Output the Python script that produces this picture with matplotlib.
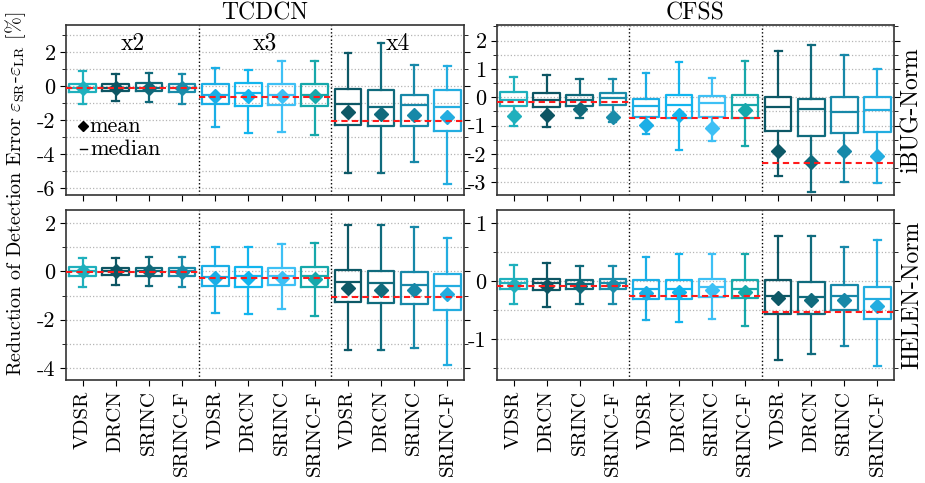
import matplotlib
matplotlib.use("Agg")
import matplotlib.pyplot as plt
from matplotlib.ticker import MultipleLocator

plt.rcParams['font.family'] = ['cmr10', 'DejaVu Serif']
plt.rcParams['mathtext.fontset'] = 'cm'
plt.rcParams['axes.unicode_minus'] = False
plt.rcParams['axes.formatter.use_mathtext'] = False

methods = ["VDSR", "DRCN", "SRINC", "SRINC-F"]
scales = ["x2", "x3", "x4"]
tick_labels = methods * 3
col_titles = ["TCDCN", "CFSS"]
row_titles = ["iBUG-Norm", "HELEN-Norm"]

box_colors = ["#1fb0bd", "#0d5563", "#10697a", "#1a8caa",
              "#1aaee6", "#12b5ee", "#3ec0f5", "#17a8ab",
              "#0d5866", "#106b7d", "#1788a8", "#23ade0"]

# TCDCN / iBUG-Norm
tl_whishi = [0.92, 0.73, 0.80, 0.73, 1.08, 0.96, 1.51, 1.47, 1.94, 2.53, 1.27, 1.16]
tl_q3     = [0.14, 0.14, 0.16, 0.14, 0.12, 0.20, 0.10, 0.10, -0.16, -0.22, -0.51, -0.25]
tl_med    = [-0.10, -0.10, -0.08, -0.10, -0.50, -0.41, -0.49, -0.49, -1.04, -1.20, -1.12, -1.20]
tl_q1     = [-0.35, -0.29, -0.29, -0.33, -1.04, -1.14, -1.08, -1.14, -2.31, -2.37, -2.37, -2.61]
tl_whislo = [-1.04, -0.88, -0.94, -1.04, -2.41, -2.75, -2.71, -2.90, -5.08, -5.12, -4.43, -5.75]
tl_mean   = [-0.10, -0.10, -0.10, -0.10, -0.55, -0.55, -0.55, -0.59, -1.53, -1.61, -1.69, -1.80]
tl_ref    = [-0.12, -0.65, -2.06]

# CFSS / iBUG-Norm
tr_whishi = [0.73, 0.80, 0.64, 0.65, 0.85, 1.24, 0.68, 1.28, 1.62, 1.86, 1.48, 1.00]
tr_q3     = [0.19, 0.14, 0.09, 0.14, -0.05, 0.08, 0.05, 0.07, 0.02, -0.05, 0.02, 0.02]
tr_med    = [-0.08, -0.08, -0.09, -0.04, -0.31, -0.26, -0.20, -0.28, -0.35, -0.41, -0.52, -0.45]
tr_q1     = [-0.31, -0.35, -0.31, -0.26, -0.68, -0.72, -0.68, -0.72, -1.18, -1.35, -1.27, -1.21]
tr_whislo = [-1.00, -1.04, -0.72, -0.86, -1.29, -1.86, -1.56, -1.71, -2.78, -3.33, -2.98, -3.01]
tr_mean   = [-0.65, -0.64, -0.41, -0.68, -0.98, -0.62, -1.07, -0.46, -1.88, -2.27, -1.91, -2.07]
tr_ref    = [-0.18, -0.73, -2.31]

# TCDCN / HELEN-Norm
bl_whishi = [0.55, 0.58, 0.59, 0.62, 1.03, 1.03, 1.13, 1.20, 1.93, 1.92, 1.86, 1.38]
bl_q3     = [0.17, 0.15, 0.15, 0.15, 0.21, 0.18, 0.14, 0.17, 0.06, 0.01, -0.01, -0.10]
bl_med    = [0.00, 0.00, 0.02, 0.01, -0.21, -0.18, -0.18, -0.19, -0.44, -0.46, -0.57, -0.59]
bl_q1     = [-0.18, -0.15, -0.17, -0.17, -0.59, -0.65, -0.57, -0.66, -1.27, -1.31, -1.35, -1.61]
bl_whislo = [-0.65, -0.55, -0.59, -0.66, -1.72, -1.75, -1.56, -1.83, -3.24, -3.24, -3.17, -3.86]
bl_mean   = [0.00, 0.00, 0.00, -0.01, -0.28, -0.29, -0.25, -0.32, -0.70, -0.76, -0.77, -0.94]
bl_ref    = [-0.01, -0.29, -1.05]

# CFSS / HELEN-Norm
br_whishi = [0.27, 0.31, 0.26, 0.26, 0.41, 0.46, 0.46, 0.47, 0.77, 0.77, 0.58, 0.70]
br_q3     = [0.03, 0.04, 0.02, 0.03, 0.01, 0.01, 0.03, 0.01, 0.01, -0.02, -0.06, -0.10]
br_med    = [-0.04, -0.03, -0.05, -0.04, -0.13, -0.14, -0.11, -0.13, -0.26, -0.28, -0.25, -0.31]
br_q1     = [-0.14, -0.15, -0.14, -0.14, -0.31, -0.31, -0.27, -0.30, -0.56, -0.56, -0.50, -0.66]
br_whislo = [-0.39, -0.45, -0.39, -0.39, -0.67, -0.70, -0.65, -0.77, -1.35, -1.26, -1.11, -1.46]
br_mean   = [-0.07, -0.09, -0.08, -0.07, -0.21, -0.19, -0.15, -0.19, -0.29, -0.33, -0.33, -0.43]
br_ref    = [-0.08, -0.25, -0.53]

panels = [
    (tl_whislo, tl_q1, tl_med, tl_q3, tl_whishi, tl_mean, tl_ref),
    (tr_whislo, tr_q1, tr_med, tr_q3, tr_whishi, tr_mean, tr_ref),
    (bl_whislo, bl_q1, bl_med, bl_q3, bl_whishi, bl_mean, bl_ref),
    (br_whislo, br_q1, br_med, br_q3, br_whishi, br_mean, br_ref),
]
ylims = [(-6.4, 3.6), (-3.45, 2.55), (-4.5, 2.55), (-1.7, 1.22)]
majors = [2, 1, 2, 1]
minors = [1, 0.5, 1, 0.5]

fig = plt.figure(figsize=(9.25, 4.83), dpi=100)
W, H = 925, 483
def rect(l, r, t, b):
    return [l / W, 1 - b / H, (r - l) / W, (b - t) / H]

rects = [rect(66, 464, 25, 195), rect(497, 894, 25, 195),
         rect(66, 464, 210, 380), rect(497, 894, 210, 380)]

axes = []
for i, (data, rc) in enumerate(zip(panels, rects)):
    ax = fig.add_axes(rc)
    axes.append(ax)
    wl, q1, md, q3, wh, mn, ref = data
    positions = list(range(1, 13))
    for k in range(12):
        c = box_colors[k]
        st = [dict(whislo=wl[k], q1=q1[k], med=md[k], q3=q3[k], whishi=wh[k],
                   mean=mn[k], fliers=[], label=tick_labels[k])]
        ax.bxp(st, positions=[positions[k]], widths=0.8, capwidths=0.2,
               showmeans=True, meanline=False, showfliers=False,
               boxprops=dict(color=c, linewidth=1.6),
               whiskerprops=dict(color=c, linewidth=1.6),
               capprops=dict(color=c, linewidth=1.6),
               medianprops=dict(color=c, linewidth=1.6),
               meanprops=dict(marker='D', markerfacecolor=c, markeredgecolor=c,
                              markersize=7),
               manage_ticks=False)
    for g in range(3):
        ax.plot([0.5 + 4 * g, 4.5 + 4 * g], [ref[g], ref[g]], color='#ff1a1a',
                linestyle=(0, (3, 2)), linewidth=1.5, zorder=4)
    for xs in (4.5, 8.5):
        ax.axvline(xs, color='black', linestyle=':', linewidth=1.0, zorder=1)
    ax.set_xlim(0.5, 12.5)
    ax.set_ylim(*ylims[i])
    ax.yaxis.set_major_locator(MultipleLocator(majors[i]))
    ax.yaxis.set_minor_locator(MultipleLocator(minors[i]))
    ax.grid(True, which='both', axis='y', color='#b5b5b5', linestyle=':', linewidth=0.9)
    ax.set_axisbelow(True)
    ax.set_xticks(positions)
    if i >= 2:
        ax.set_xticklabels(tick_labels, rotation=90, fontsize=15)
    else:
        ax.set_xticklabels([])
    ax.tick_params(axis='y', which='both', right=True, direction='out', labelsize=16)
    ax.tick_params(axis='y', which='major', length=4)
    ax.tick_params(axis='y', which='minor', length=3)
    ax.tick_params(axis='x', direction='out', length=4)
    for s in ax.spines.values():
        s.set_color('#333333')
        s.set_linewidth(1.2)

for j, t in enumerate(col_titles):
    axes[j].set_title(t, fontsize=17, pad=2)
for j, t in enumerate(row_titles):
    axes[2 * j + 1].text(1.045, 0.5, t, transform=axes[2 * j + 1].transAxes,
                         rotation=90, ha='center', va='center', fontsize=17)

ax0 = axes[0]
for g, s in enumerate(scales):
    ax0.text(2.5 + 4 * g, 0.89, s, transform=ax0.get_xaxis_transform(),
             ha='center', va='center', fontsize=17)
ax0.plot([0.043], [0.405], marker='D', color='black', markersize=5,
         transform=ax0.transAxes, clip_on=False)
ax0.text(0.058, 0.405, "mean", transform=ax0.transAxes, ha='left', va='center', fontsize=16)
ax0.plot([0.036, 0.052], [0.272, 0.272], color='black', linewidth=1.0,
         transform=ax0.transAxes, clip_on=False)
ax0.text(0.062, 0.272, "median", transform=ax0.transAxes, ha='left', va='center', fontsize=16)

fig.text(0.017, 0.598,
         r"Reduction of Detection Error $\mathbf{\varepsilon}_{\mathrm{SR}}$-$\mathbf{\varepsilon}_{\mathrm{LR}}$ [%]",
         rotation=90, ha='center', va='center', fontsize=14.5)

fig.savefig("out.png", dpi=100)
